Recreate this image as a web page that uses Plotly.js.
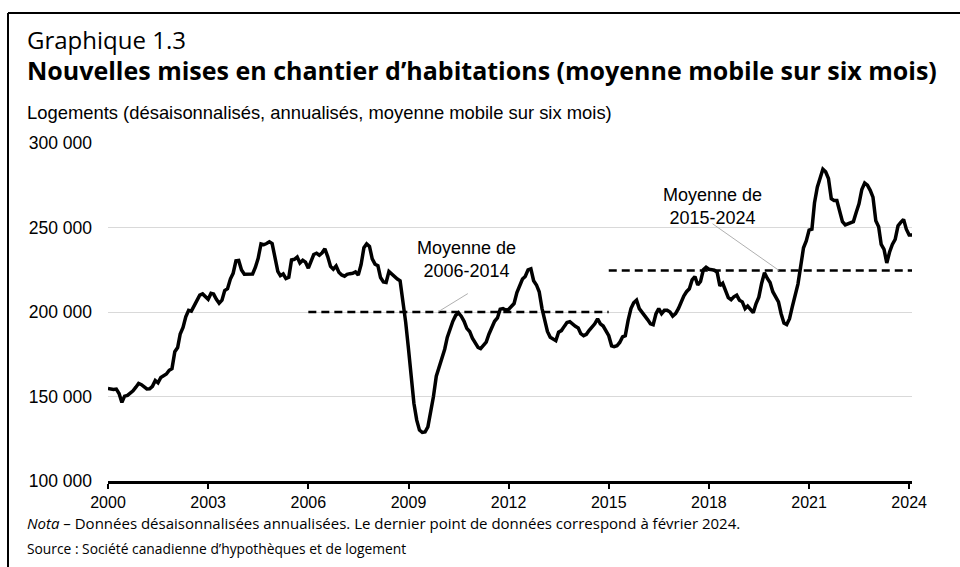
<!DOCTYPE html>
<html>
<head>
<meta charset="utf-8">
<script src="https://cdn.plot.ly/plotly-3.0.1.min.js"></script>
<style>
  html, body { margin: 0; padding: 0; background: #ffffff; }
  #chart { width: 960px; height: 567px; }
</style>
</head>
<body>
<div id="chart"></div>
<script>
// ---- Data ----
// Monthly six-month moving average of housing starts, Jan 2000 .. Feb 2024
const startYear = 2000;
const housingStarts = [
  154700,154300,154200,154400,151800,146500,150200,150700,152000,153400,155500,157700,
  157000,155800,154500,154600,156000,159500,158100,161300,162500,163300,165500,166500,
  176500,179000,187000,190900,197200,201000,200500,203400,207000,210000,210700,209200,
  207500,211000,210600,207500,205200,207000,212700,213800,219500,222900,230300,230500,
  224900,222300,222500,222400,222500,226500,231800,240300,239800,240500,241500,240500,
  233000,224000,221500,222500,219800,220500,230800,231200,232500,229000,230600,229500,
  225900,230000,234000,234800,233600,235000,237400,232800,227000,225300,227200,223500,
  221900,221200,222300,222700,222900,223700,221900,228000,238000,240300,238800,231500,
  228300,227400,220400,217800,217500,224000,222500,220700,219500,218500,207000,194000,
  178000,162000,146000,136000,130100,128700,129000,132000,140000,150000,162000,167500,
  172000,178000,185000,190300,194500,198000,199500,197500,194500,190300,188500,184500,
  181500,179000,178300,180500,182200,187000,190500,194500,196500,201600,202000,201200,
  201500,203000,205000,211500,216000,219500,221000,224900,225500,218500,216000,212000,
  202000,195000,188500,185000,184000,183000,188000,189000,191500,193800,194300,192600,
  191500,190500,187200,186000,186800,189200,191000,193000,196000,193000,191700,189000,
  186000,180000,179500,180000,182000,185300,186000,195000,202000,205500,207000,202000,
  199800,198400,195500,193000,192500,199000,202000,199000,201000,201000,200000,197600,
  199000,202000,206000,209500,212000,213700,219000,221000,216000,218000,225000,226500,
  225300,224800,224800,223500,215500,217000,212500,208500,207300,209000,210000,207000,
  206000,202000,203500,201800,199600,205000,208800,217000,223200,220000,217500,212000,
  209100,206000,199000,193500,192600,196000,203000,211000,216500,227000,238000,242000,
  248500,249000,264500,273800,279000,284500,283000,279000,267000,266000,266000,259000,
  253500,251500,252000,253000,253500,259000,264000,272500,276300,275000,272000,268000,
  254000,250500,240000,237000,229000,235500,240000,243000,251000,253000,254800,249000,
  245500,245500
];

// Period averages (dashed lines)
const avgPeriods = [
  { label: "Moyenne de<br>2006-2014", start: "2006-01-01", end: "2014-12-31", value: 200000 },
  { label: "Moyenne de<br>2015-2024", start: "2015-01-01", end: "2024-02-01", value: 224500 }
];

const xTickYears = [2000, 2003, 2006, 2009, 2012, 2015, 2018, 2021, 2024];
const yTickValues = [100000, 150000, 200000, 250000, 300000];

const figNumber = "Graphique 1.3";
const chartTitle = "Nouvelles mises en chantier d\u2019habitations (moyenne mobile sur six mois)";
const yAxisTitle = "Logements (d\u00e9saisonnalis\u00e9s, annualis\u00e9s, moyenne mobile sur six mois)";
const noteText = "<i>Nota</i> \u2013 Donn\u00e9es d\u00e9saisonnalis\u00e9es annualis\u00e9es. Le dernier point de donn\u00e9es correspond \u00e0 f\u00e9vrier 2024.";
const sourceText = "Source : Soci\u00e9t\u00e9 canadienne d\u2019hypoth\u00e8ques et de logement";

// ---- Build ----
function monthDate(i) {
  const y = startYear + Math.floor(i / 12);
  const m = (i % 12) + 1;
  return y + "-" + (m < 10 ? "0" + m : m) + "-01";
}
const months = housingStarts.map((_, i) => monthDate(i));

const traces = [
  {
    x: months, y: housingStarts, type: "scatter", mode: "lines",
    line: { color: "#000000", width: 3.5 }, hoverinfo: "skip", showlegend: false
  }
].concat(avgPeriods.map(p => ({
  x: [p.start, p.end], y: [p.value, p.value], type: "scatter", mode: "lines",
  line: { color: "#000000", width: 2.5, dash: "8px,5px" }, hoverinfo: "skip", showlegend: false
})));

// plot area pixel geometry helpers (for paper-referenced decorations)
const L = 108, R = 48, T = 143, B = 86, W = 960, H = 567;
const pw = W - L - R, ph = H - T - B;
const px = v => (v - L) / pw;
const py = v => (H - B - v) / ph;

const sans = "Open Sans, Noto Sans, sans-serif";
const arial = "Liberation Sans, Arial, sans-serif";

const annotations = [
  { text: figNumber, xref: "paper", yref: "paper", x: px(25), y: py(39), xanchor: "left", yanchor: "middle",
    showarrow: false, font: { family: sans, size: 24, color: "#000" } },
  { text: "<b>" + chartTitle + "</b>", xref: "paper", yref: "paper", x: px(25), y: py(70), xanchor: "left", yanchor: "middle",
    showarrow: false, font: { family: sans, size: 25, color: "#000" } },
  { text: yAxisTitle, xref: "paper", yref: "paper", x: px(25), y: py(112), xanchor: "left", yanchor: "middle",
    showarrow: false, font: { family: arial, size: 18.4, color: "#000" } },
  { text: noteText, xref: "paper", yref: "paper", x: px(25), y: py(523), xanchor: "left", yanchor: "middle",
    showarrow: false, font: { family: sans, size: 15, color: "#000" } },
  { text: sourceText, xref: "paper", yref: "paper", x: px(25), y: py(548), xanchor: "left", yanchor: "middle",
    showarrow: false, font: { family: sans, size: 13.8, color: "#000" } },
  { text: avgPeriods[0].label, xref: "x", yref: "y", x: "2010-09-24", y: 231000, xanchor: "center", yanchor: "middle",
    showarrow: false, font: { family: arial, size: 18, color: "#000" } },
  { text: avgPeriods[1].label, xref: "x", yref: "y", x: "2018-02-05", y: 262500, xanchor: "center", yanchor: "middle",
    showarrow: false, font: { family: arial, size: 18, color: "#000" } }
];

const shapes = [
  // leader lines
  { type: "line", xref: "x", yref: "y", x0: "2009-11-18", y0: avgPeriods[0].value, x1: "2010-10-12", y1: 210900,
    line: { color: "#b0b0b0", width: 1 } },
  { type: "line", xref: "x", yref: "y", x0: "2020-02-09", y0: avgPeriods[1].value, x1: "2018-02-10", y1: 252200,
    line: { color: "#b0b0b0", width: 1 } },
  // outer frame (top and left)
  { type: "line", xref: "paper", yref: "paper", x0: px(8), y0: py(13), x1: px(961), y1: py(13),
    line: { color: "#000", width: 2 } },
  { type: "line", xref: "paper", yref: "paper", x0: px(8), y0: py(13), x1: px(8), y1: py(568),
    line: { color: "#000", width: 2 } }
];

const layout = {
  width: W, height: H,
  margin: { l: L, r: R, t: T, b: B, pad: 0 },
  paper_bgcolor: "#ffffff", plot_bgcolor: "#ffffff",
  separators: ", ",
  showlegend: false,
  xaxis: {
    type: "date",
    range: ["2000-01-01", "2024-02-01"],
    tickvals: xTickYears.map(y => y + "-01-01"),
    ticktext: xTickYears.map(String),
    showgrid: false, zeroline: false,
    showline: true, linecolor: "#000", linewidth: 3,
    ticks: "outside", ticklen: 5, tickwidth: 2, tickcolor: "#000",
    tickfont: { family: arial, size: 16, color: "#000" },
    fixedrange: true
  },
  yaxis: {
    range: [100000, 300000],
    tickvals: yTickValues,
    tickformat: ",d",
    showgrid: true, gridcolor: "#d9d9d9", gridwidth: 1,
    zeroline: false, showline: false, ticks: "",
    ticklabelstandoff: 15,
    tickfont: { family: arial, size: 17.5, color: "#000" },
    fixedrange: true
  },
  annotations: annotations,
  shapes: shapes
};

Plotly.newPlot("chart", traces, layout, { displayModeBar: false, staticPlot: true });
</script>
</body>
</html>
